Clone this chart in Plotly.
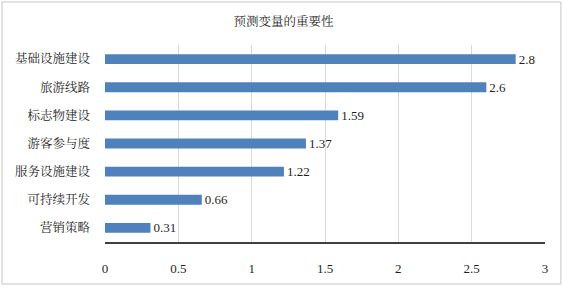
import plotly.graph_objects as go

categories = ["基础设施建设", "旅游线路", "标志物建设", "游客参与度", "服务设施建设", "可持续开发", "营销策略"]
values = [2.8, 2.6, 1.59, 1.37, 1.22, 0.66, 0.31]
value_labels = ["2.8", "2.6", "1.59", "1.37", "1.22", "0.66", "0.31"]
tick_vals = [0, 0.5, 1, 1.5, 2, 2.5, 3]
tick_text = ["0", "0.5", "1", "1.5", "2", "2.5", "3"]
title_text = "预测变量的重要性"

FONT = "Liberation Serif, Noto Serif CJK SC, Noto Sans CJK SC, serif"
TXT = "#1F1F1F"

fig = go.Figure(go.Bar(
    x=values,
    y=categories,
    orientation="h",
    marker=dict(color="#4F81BD", line=dict(width=0)),
    width=0.35,
    text=value_labels,
    textposition="outside",
    constraintext="none",
    textfont=dict(family=FONT, size=13, color=TXT),
    cliponaxis=False,
))

fig.update_layout(
    width=567, height=288,
    margin=dict(l=105, r=22, t=45, b=46),
    paper_bgcolor="white",
    plot_bgcolor="white",
    showlegend=False,
    title=dict(text=title_text, x=0.5, xref="container", y=1 - 22/288, yref="container",
               yanchor="middle", xanchor="center",
               font=dict(family=FONT, size=12.5, color=TXT)),
    font=dict(family=FONT, color=TXT),
    xaxis=dict(range=[0, 3], tickvals=tick_vals, ticktext=tick_text,
               showgrid=True, gridcolor="#D9D9D9", gridwidth=1,
               zeroline=False, showline=True, linecolor="#404040", linewidth=1.5,
               ticks="", ticklabelstandoff=14,
               tickfont=dict(family=FONT, size=13, color=TXT)),
    yaxis=dict(categoryorder="array", categoryarray=categories[::-1],
               showgrid=False, zeroline=False, showline=False, ticks="",
               ticklabelstandoff=14,
               tickfont=dict(family=FONT, size=12.5, color=TXT)),
    shapes=[dict(type="rect", xref="paper", yref="paper",
                 x0=-0.234, x1=1.036, y0=-0.213, y1=1.218,
                 line=dict(color="#D9D9D9", width=1.5), layer="below")],
)

fig.write_html("out.html", post_script="document.body.style.margin='0';",
               config={"displayModeBar": False})
